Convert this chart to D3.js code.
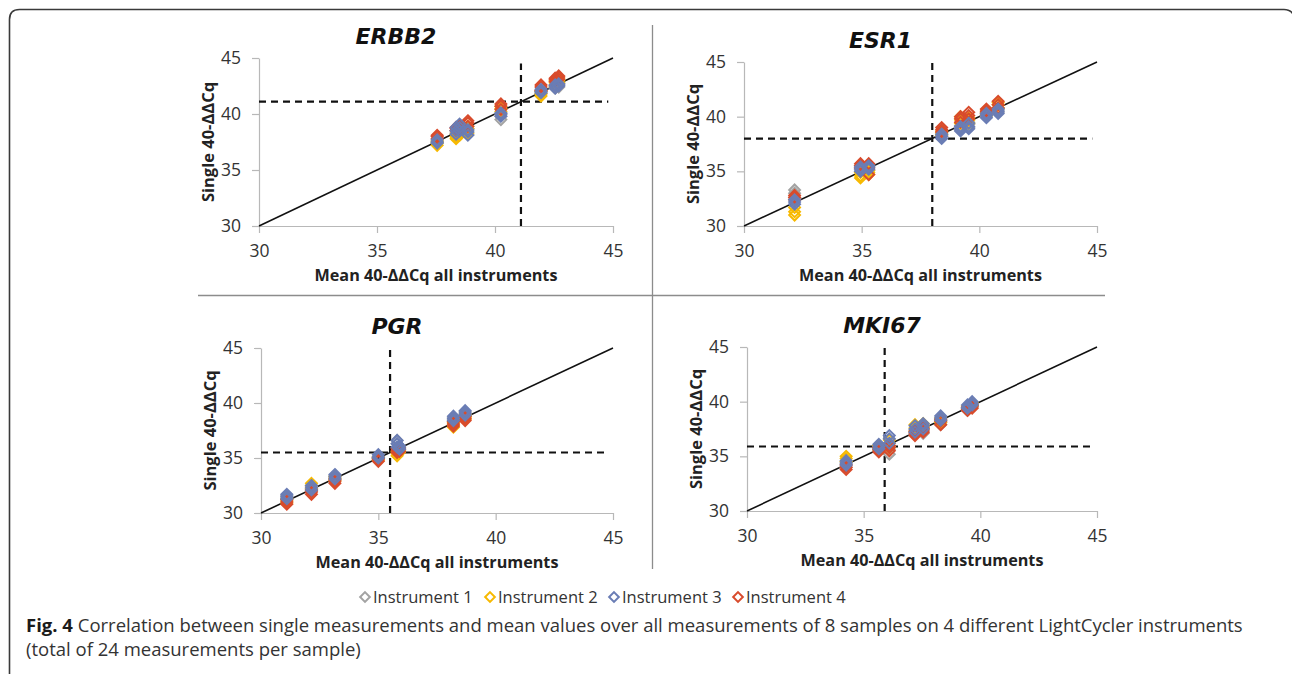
<!DOCTYPE html>
<html>
<head>
<meta charset="utf-8">
<script src="https://cdn.jsdelivr.net/npm/d3@7"></script>
<style>
  body { margin: 0; background: #fff; }
  svg { display: block; }
</style>
</head>
<body>
<svg id="chart" width="1292" height="674"></svg>
<script>
// genes and instruments
var genes = ["ERBB2", "ESR1", "PGR", "MKI67"];
var instruments = ["Instrument 1", "Instrument 2", "Instrument 3", "Instrument 4"];
var instrumentColors = ["#a3a3a3", "#f7b900", "#6a7db5", "#d84b2c"];

// cut-off values (dashed lines)
var cutoffs = [41.1, 38.0, 35.5, 35.9];

// mean 40-ddCq per sample (x)
var erbb2Mean = [37.55, 38.35, 38.5, 38.85, 40.25, 41.95, 42.55, 42.7];
var esr1Mean = [32.15, 34.95, 35.3, 38.4, 39.2, 39.55, 40.3, 40.8];
var pgrMean = [31.1, 32.15, 33.15, 35.0, 35.8, 35.9, 38.2, 38.7];
var mki67Mean = [34.25, 35.65, 36.1, 37.2, 37.55, 38.3, 39.45, 39.65];

// single measurements per instrument, per sample (y)
var erbb2I1 = [[37.4,37.6,37.5],[38.0,38.3,38.5],[38.2,38.6,38.4],[38.2,38.5,38.7],[39.5,39.8,40.0],[41.8,42.0,42.1],[42.3,42.5,42.6],[42.4,42.7,42.6]];
var erbb2I2 = [[37.2,37.4,37.6],[37.8,38.0,38.2],[38.1,38.4,38.7],[38.3,38.7,38.9],[40.2,40.5,40.7],[41.6,41.8,42.0],[42.4,42.8,43.0],[42.8,43.0,43.2]];
var erbb2I3 = [[37.5,37.4,37.7],[38.2,38.5,38.8],[38.5,38.8,39.1],[38.1,38.4,38.6],[39.8,40.0,40.1],[41.9,42.0,42.2],[42.3,42.5,42.6],[42.5,42.6,42.7]];
var erbb2I4 = [[37.8,38.0,38.1],[38.5,38.7,38.8],[38.6,38.9,39.0],[38.9,39.2,39.4],[40.4,40.7,40.9],[42.1,42.4,42.6],[42.9,43.1,43.2],[43.1,43.3,43.4]];

var esr1I1 = [[32.6,33.0,33.3],[35.0,35.3,35.5],[35.1,35.4,35.6],[38.2,38.4,38.6],[38.8,39.0,39.2],[39.0,39.3,39.5],[40.0,40.2,40.4],[40.4,40.6,40.8]];
var esr1I2 = [[31.0,31.3,31.7],[34.4,34.6,34.9],[34.7,34.9,35.1],[38.3,38.5,38.7],[39.4,39.7,40.0],[39.4,39.7,39.9],[40.1,40.4,40.6],[40.8,41.1,41.3]];
var esr1I3 = [[32.0,32.2,32.4],[35.0,35.2,35.4],[35.2,35.4,35.5],[38.0,38.2,38.4],[38.7,38.9,39.1],[38.9,39.1,39.4],[39.9,40.1,40.3],[40.3,40.5,40.7]];
var esr1I4 = [[32.4,32.6,32.8],[35.3,35.5,35.7],[34.7,35.3,35.7],[38.6,38.8,39.0],[39.5,39.8,40.0],[39.8,40.1,40.4],[40.3,40.5,40.7],[40.8,41.1,41.4]];

var pgrI1 = [[31.2,31.4,31.6],[32.0,32.2,32.4],[33.0,33.2,33.4],[34.9,35.0,35.1],[35.9,36.3,36.6],[35.6,35.8,36.0],[38.3,38.5,38.7],[38.8,39.0,39.2]];
var pgrI2 = [[30.9,31.1,31.3],[32.2,32.5,32.7],[32.9,33.1,33.3],[34.8,35.0,35.1],[35.2,35.4,35.6],[35.5,35.7,35.9],[37.8,38.0,38.2],[38.5,38.7,38.9]];
var pgrI3 = [[31.3,31.5,31.7],[32.1,32.3,32.5],[33.1,33.3,33.5],[35.0,35.1,35.3],[36.0,36.3,36.6],[35.8,35.9,36.1],[38.4,38.6,38.8],[38.9,39.1,39.3]];
var pgrI4 = [[30.8,31.0,31.2],[31.7,31.9,32.1],[32.7,32.9,33.1],[34.7,34.9,35.0],[35.5,35.7,35.9],[35.6,35.8,35.9],[37.9,38.1,38.3],[38.4,38.6,38.8]];

var mki67I1 = [[34.0,34.3,34.5],[35.5,35.7,35.9],[35.2,35.6,35.9],[37.0,37.2,37.4],[37.1,37.3,37.5],[37.9,38.1,38.3],[39.2,39.4,39.5],[39.5,39.6,39.8]];
var mki67I2 = [[34.5,34.8,35.0],[35.6,35.8,36.0],[35.8,36.2,36.5],[37.3,37.6,37.9],[37.6,37.8,38.0],[38.1,38.3,38.5],[39.3,39.4,39.6],[39.6,39.7,39.9]];
var mki67I3 = [[34.2,34.4,34.6],[35.7,35.9,36.1],[36.2,36.6,36.9],[37.2,37.5,37.8],[37.5,37.8,38.0],[38.3,38.5,38.7],[39.4,39.5,39.7],[39.7,39.8,40.0]];
var mki67I4 = [[33.8,34.0,34.2],[35.4,35.6,35.8],[35.5,35.8,36.0],[36.9,37.1,37.3],[37.2,37.4,37.6],[37.9,38.2,38.4],[39.2,39.3,39.5],[39.4,39.6,39.7]];

var axisTicks = [30, 35, 40, 45];
var xTitle = "Mean 40-ΔΔCq all instruments";
var yTitle = "Single 40-ΔΔCq";

var means = [erbb2Mean, esr1Mean, pgrMean, mki67Mean];
var singles = [
  [erbb2I1, erbb2I2, erbb2I3, erbb2I4],
  [esr1I1, esr1I2, esr1I3, esr1I4],
  [pgrI1, pgrI2, pgrI3, pgrI4],
  [mki67I1, mki67I2, mki67I3, mki67I4]
];

// plot boxes (pixels)
var boxes = [
  {x0: 259, x1: 613, y0: 58, y1: 226, vTop: 44.5},
  {x0: 744, x1: 1097, y0: 62, y1: 226, vTop: 45},
  {x0: 261, x1: 613, y0: 348, y1: 513, vTop: 45},
  {x0: 747, x1: 1097, y0: 347, y1: 511, vTop: 45}
];

var svg = d3.select("#chart");
var font = "'Open Sans', 'Noto Sans', sans-serif";

// outer frame with rounded corners
svg.append("path")
  .attr("d", "M9.5,700 L9.5,19.5 Q9.5,9.5 19.5,9.5 L1284,9.5 Q1290,9.5 1293,14")
  .attr("fill", "none")
  .attr("stroke", "#3a3a3a")
  .attr("stroke-width", 1.6);

// panel dividers
svg.append("line").attr("x1", 198).attr("x2", 1105).attr("y1", 295.5).attr("y2", 295.5)
  .attr("stroke", "#8c8c8c").attr("stroke-width", 1.3);
svg.append("line").attr("x1", 652.5).attr("x2", 652.5).attr("y1", 25).attr("y2", 569)
  .attr("stroke", "#8c8c8c").attr("stroke-width", 1.3);

genes.forEach(function (gene, gi) {
  var b = boxes[gi];
  var x = d3.scaleLinear().domain([30, 45]).range([b.x0, b.x1]);
  var y = d3.scaleLinear().domain([30, 45]).range([b.y1, b.y0]);
  var g = svg.append("g");

  // axes
  var xAxis = g.append("g")
    .attr("transform", "translate(0," + b.y1 + ")")
    .call(d3.axisBottom(x).tickValues(axisTicks).tickSize(7).tickSizeOuter(0).tickPadding(8));
  var yAxis = g.append("g")
    .attr("transform", "translate(" + b.x0 + ",0)")
    .call(d3.axisLeft(y).tickValues(axisTicks).tickSize(7).tickSizeOuter(0).tickPadding(11));
  [xAxis, yAxis].forEach(function (a) {
    a.select(".domain").attr("stroke", "#b8b8b8").attr("stroke-width", 1.2);
    a.selectAll(".tick line").attr("stroke", "#b8b8b8").attr("stroke-width", 1.2);
    a.selectAll(".tick text")
      .attr("fill", "#333")
      .style("font-family", font)
      .style("font-size", "17.5px");
  });
  xAxis.selectAll(".tick text").attr("dy", "0.9em");

  // diagonal y = x
  g.append("line")
    .attr("x1", x(30)).attr("y1", y(30))
    .attr("x2", x(45)).attr("y2", y(45))
    .attr("stroke", "#111").attr("stroke-width", 1.6);

  // dashed cut-off lines
  var c = cutoffs[gi];
  g.append("line")
    .attr("x1", x(30)).attr("x2", x(44.8))
    .attr("y1", y(c)).attr("y2", y(c))
    .attr("stroke", "#111").attr("stroke-width", 2.2)
    .attr("stroke-dasharray", "7,5");
  g.append("line")
    .attr("x1", x(c)).attr("x2", x(c))
    .attr("y1", y(30)).attr("y2", y(b.vTop))
    .attr("stroke", "#111").attr("stroke-width", 2.2)
    .attr("stroke-dasharray", "7,5");

  // markers: draw instrument 3 last so it sits on top like in the original
  var order = [0, 1, 3, 2];
  order.forEach(function (ii) {
    var pts = [];
    singles[gi][ii].forEach(function (reps, si) {
      reps.forEach(function (v) {
        pts.push({x: means[gi][si], y: v});
      });
    });
    g.append("g").selectAll("path")
      .data(pts)
      .enter().append("path")
      .attr("d", d3.symbol().type(d3.symbolDiamond2).size(75))
      .attr("transform", function (d) {
        return "translate(" + x(d.x) + "," + y(d.y) + ")";
      })
      .attr("fill", "none")
      .attr("stroke", instrumentColors[ii])
      .attr("stroke-width", 2);
  });

  // gene title
  g.append("text")
    .attr("x", (b.x0 + b.x1) / 2 - 40)
    .attr("y", b.y0 - 14)
    .attr("text-anchor", "middle")
    .style("font-family", "'DejaVu Sans', sans-serif")
    .style("font-size", "22px")
    .style("font-weight", "bold")
    .style("font-style", "italic")
    .attr("fill", "#111")
    .text(gene);

  // axis titles
  g.append("text")
    .attr("x", (b.x0 + b.x1) / 2)
    .attr("y", b.y1 + 55)
    .attr("text-anchor", "middle")
    .style("font-family", font)
    .style("font-size", "16.2px")
    .style("font-weight", "bold")
    .attr("fill", "#222")
    .text(xTitle);
  g.append("text")
    .attr("transform", "translate(" + (b.x0 - 45) + "," + ((b.y0 + b.y1) / 2) + ") rotate(-90)")
    .attr("text-anchor", "middle")
    .style("font-family", font)
    .style("font-size", "16.5px")
    .style("font-weight", "bold")
    .attr("fill", "#222")
    .text(yTitle);
});

// legend
var legendX = [365, 490, 614, 738];
var legend = svg.append("g");
instruments.forEach(function (name, i) {
  legend.append("path")
    .attr("d", d3.symbol().type(d3.symbolDiamond2).size(60))
    .attr("transform", "translate(" + legendX[i] + ",597)")
    .attr("fill", "none")
    .attr("stroke", instrumentColors[i])
    .attr("stroke-width", 2);
  legend.append("text")
    .attr("x", legendX[i] + 8)
    .attr("y", 603)
    .style("font-family", font)
    .style("font-size", "16.5px")
    .attr("fill", "#333")
    .text(name);
});

// caption
var caption = svg.append("g").style("font-family", font).style("font-size", "18.5px");
var line1 = caption.append("text").attr("x", 26).attr("y", 632).attr("fill", "#333");
line1.append("tspan").style("font-weight", "bold").attr("fill", "#1a1a1a").text("Fig. 4");
line1.append("tspan").text(" Correlation between single measurements and mean values over all measurements of 8 samples on 4 different LightCycler instruments");
caption.append("text").attr("x", 26).attr("y", 656).attr("fill", "#333")
  .text("(total of 24 measurements per sample)");
</script>
</body>
</html>
